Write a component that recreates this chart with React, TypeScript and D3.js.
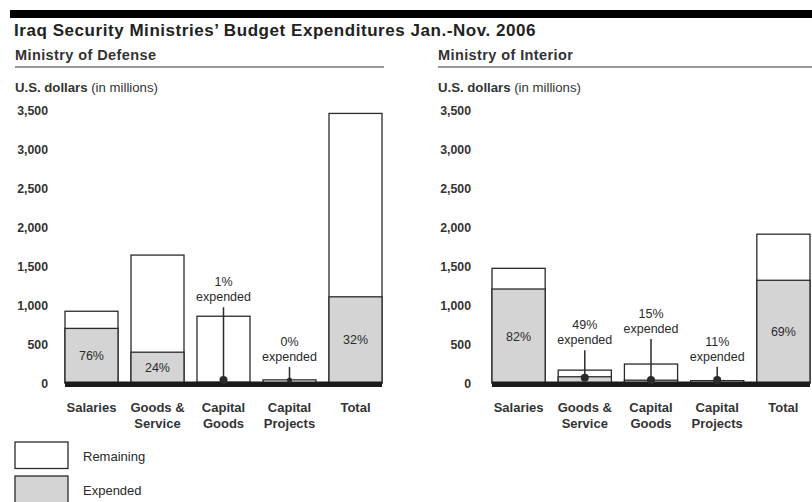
import React from "react";
import * as d3 from "d3";

const categories = ["Salaries", "Goods & Service", "Capital Goods", "Capital Projects", "Total"];
const categoryLines = [["Salaries"], ["Goods &", "Service"], ["Capital", "Goods"], ["Capital", "Projects"], ["Total"]];

const defenseTotal = [920, 1640, 856, 40, 3456];
const defenseExpended = [700, 395, 9, 0, 1105];
const defensePct = ["76%", "24%", "1%", "0%", "32%"];

const interiorTotal = [1470, 165, 243, 30, 1908];
const interiorExpended = [1205, 80, 36, 3, 1317];
const interiorPct = ["82%", "49%", "15%", "11%", "69%"];

const yTicks = [0, 500, 1000, 1500, 2000, 2500, 3000, 3500];

const FONT = "'Liberation Sans', Arial, Helvetica, sans-serif";
const GRAY = "#d4d4d4";
const INK = "#2a2a2a";

type PanelProps = {
  title: string;
  x0: number;
  x1: number;
  ruleX0: number;
  ruleX1: number;
  labelX: number;
  tickX: number;
  total: number[];
  expended: number[];
  pct: string[];
  callout: (number | null)[];
};

const y = d3.scaleLinear().domain([0, 3500]).range([383, 110]);

function Panel(p: PanelProps) {
  const x = d3.scaleBand<string>().domain(categories).range([p.x0, p.x1]).paddingInner(0.197).paddingOuter(0);
  const fmt = d3.format(",");
  return (
    <g fontFamily={FONT}>
      <text x={p.labelX} y={60} fontSize={14.5} letterSpacing={0.4} fontWeight="bold" fill="#333">{p.title}</text>
      <line x1={p.ruleX0} x2={p.ruleX1} y1={67} y2={67} stroke="#333" strokeWidth={1.2} />
      <text x={p.labelX} y={92} fontSize={13.2} fill="#333">
        <tspan fontWeight="bold">U.S. dollars</tspan> (in millions)
      </text>
      {yTicks.map((t) => (
        <text key={t} x={p.tickX} y={y(t) + 4.5} textAnchor="end" fontSize={12.3} fontWeight="bold" fill="#333">
          {fmt(t)}
        </text>
      ))}
      {categories.map((c, i) => {
        const bx = x(c)!;
        const bw = x.bandwidth();
        const tot = p.total[i];
        const exp = p.expended[i];
        const cx = bx + bw / 2;
        const stem = p.callout[i];
        return (
          <g key={c}>
            <rect x={bx} y={y(tot)} width={bw} height={y(0) - y(tot)} fill="#fff" stroke={INK} strokeWidth={1.3} />
            {exp > 0 && (
              <rect x={bx} y={y(exp)} width={bw} height={y(0) - y(exp)} fill={GRAY} stroke={INK} strokeWidth={1.3} />
            )}
            {stem === null && (
              <text x={cx} y={(y(exp) + y(0)) / 2 + 4.5} textAnchor="middle" fontSize={12.5} fill={INK}>
                {p.pct[i]}
              </text>
            )}
            {categoryLines[i].map((ln, j) => (
              <text key={j} x={cx} y={412 + j * 16} textAnchor="middle" fontSize={13} fontWeight="bold" fill="#333">
                {ln}
              </text>
            ))}
          </g>
        );
      })}
      <rect x={p.x0} y={381.5} width={p.x1 - p.x0} height={5.5} fill="#1a1a1a" />
      {categories.map((c, i) => {
        const stem = p.callout[i];
        if (stem === null) return null;
        const cx = x(c)! + x.bandwidth() / 2;
        const tot = p.total[i];
        const exp = p.expended[i];
        const dotY = Math.min(y(exp) + 1, y(0) - 3);
        return (
          <g key={"c" + c}>
            <line x1={cx} x2={cx} y1={y(tot) - stem} y2={dotY} stroke={INK} strokeWidth={1.5} />
            <circle cx={cx} cy={dotY} r={exp > 0 ? 4 : 2.5} fill={INK} />
            <text x={cx} y={y(tot) - stem - 6} textAnchor="middle" fontSize={12.5} fill={INK}>expended</text>
            <text x={cx} y={y(tot) - stem - 21} textAnchor="middle" fontSize={12.5} fill={INK}>{p.pct[i]}</text>
          </g>
        );
      })}
    </g>
  );
}

export default function App() {
  return (
    <svg width={812} height={502} style={{ position: "absolute", left: 0, top: 0, background: "#fff" }}>
      <rect x={0} y={0} width={812} height={502} fill="#fff" />
      <rect x={10} y={10} width={802} height={8} fill="#000" />
      <text x={14} y={36} fontFamily={FONT} fontSize={17} letterSpacing={0.55} fontWeight="bold" fill="#222">
        Iraq Security Ministries’ Budget Expenditures Jan.-Nov. 2006
      </text>
      <Panel
        title="Ministry of Defense"
        x0={65}
        x1={382}
        ruleX0={15}
        ruleX1={384}
        labelX={15}
        tickX={48}
        total={defenseTotal}
        expended={defenseExpended}
        pct={defensePct}
        callout={[null, null, 9, 13, null]}
      />
      <Panel
        title="Ministry of Interior"
        x0={492}
        x1={810}
        ruleX0={438}
        ruleX1={812}
        labelX={438}
        tickX={471}
        total={interiorTotal}
        expended={interiorExpended}
        pct={interiorPct}
        callout={[null, 20, 25, 14, null]}
      />
      <g fontFamily={FONT}>
        <rect x={15} y={442} width={53} height={26.5} fill="#fff" stroke={INK} strokeWidth={1.3} />
        <text x={83} y={461} fontSize={13} fill={INK}>Remaining</text>
        <rect x={15} y={476} width={53} height={30} fill={GRAY} stroke={INK} strokeWidth={1.3} />
        <text x={83} y={495} fontSize={13} fill={INK}>Expended</text>
      </g>
    </svg>
  );
}
